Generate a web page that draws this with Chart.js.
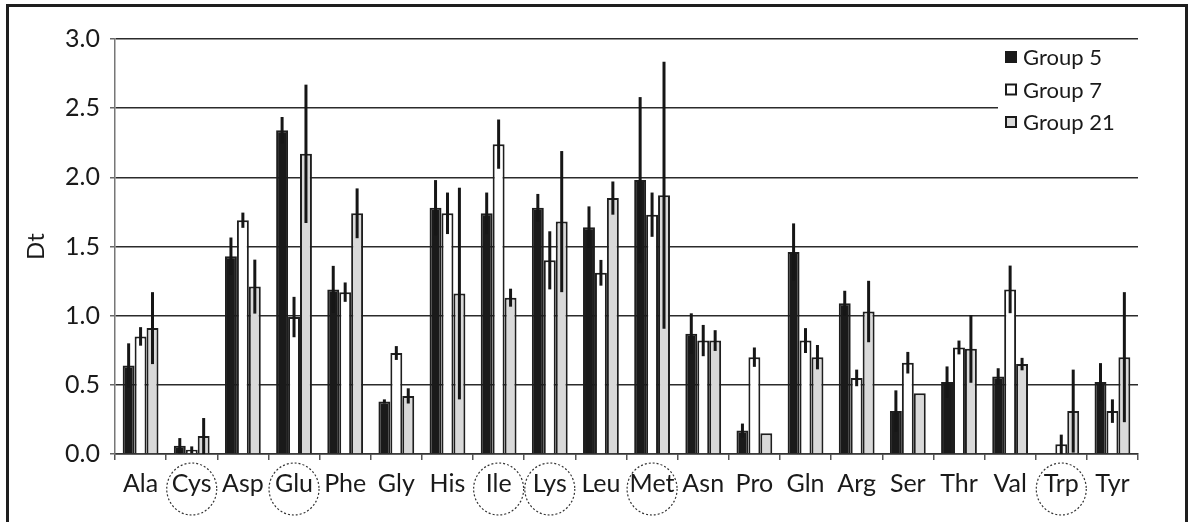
<!DOCTYPE html>
<html>
<head>
<meta charset="utf-8">
<script src="https://cdn.jsdelivr.net/npm/chart.js@4.4.1/dist/chart.umd.min.js"></script>
<style>
  html, body { margin: 0; padding: 0; background: #fff; }
  #wrap { position: relative; width: 1191px; height: 522px; overflow: hidden; }
  #frame {
    position: absolute; left: 6px; top: 4px; width: 1182px; height: 600px;
    box-sizing: border-box; border: 3px solid #1e1e1e; pointer-events: none;
  }
  canvas { position: absolute; left: 0; top: 0; }
</style>
</head>
<body>
<div id="wrap">
  <canvas id="chart" width="1191" height="522"></canvas>
  <div id="frame"></div>
</div>
<script>
const categories = ['Ala', 'Cys', 'Asp', 'Glu', 'Phe', 'Gly', 'His', 'Ile', 'Lys', 'Leu',
                    'Met', 'Asn', 'Pro', 'Gln', 'Arg', 'Ser', 'Thr', 'Val', 'Trp', 'Tyr'];
// labels drawn with a dotted circle round them
const circled = ['Cys', 'Glu', 'Ile', 'Lys', 'Met', 'Trp'];

const group5    = [0.64, 0.06, 1.43, 2.34, 1.19, 0.38, 1.78, 1.74, 1.78, 1.64, 1.98, 0.87, 0.17, 1.46, 1.09, 0.31, 0.52, 0.56, 0, 0.52];
const group5Err = [0.16, 0.055, 0.135, 0.096, 0.17, 0.015, 0.2, 0.15, 0.1, 0.15, 0.6, 0.147, 0.05, 0.207, 0.09, 0.15, 0.113, 0.06, 0, 0.137];
const group7    = [0.85, 0.03, 1.69, 0.99, 1.17, 0.73, 1.74, 2.24, 1.40, 1.31, 1.73, 0.82, 0.70, 0.82, 0.55, 0.66, 0.77, 1.19, 0.07, 0.31];
const group7Err = [0.067, 0.025, 0.055, 0.146, 0.07, 0.05, 0.15, 0.178, 0.21, 0.093, 0.16, 0.113, 0.07, 0.09, 0.06, 0.078, 0.05, 0.172, 0.07, 0.085];
const group21    = [0.91, 0.13, 1.21, 2.17, 1.74, 0.42, 1.16, 1.13, 1.68, 1.85, 1.87, 0.82, 0.15, 0.70, 1.03, 0.44, 0.76, 0.65, 0.31, 0.70];
const group21Err = [0.26, 0.13, 0.195, 0.5, 0.18, 0.055, 0.765, 0.065, 0.51, 0.12, 0.965, 0.075, 0, 0.088, 0.222, 0, 0.245, 0.045, 0.3, 0.47];

const FONT = 'Lato, "Open Sans", sans-serif';
Chart.defaults.font.family = FONT;
Chart.defaults.font.size = 25;
Chart.defaults.color = '#1a1a1a';

// vertical error bars, no caps
const errorBars = {
    id: 'errorBars',
    afterDatasetsDraw(chart) {
        const ctx = chart.ctx;
        const y = chart.scales.y;
        ctx.save();
        ctx.strokeStyle = '#161616';
        ctx.lineWidth = 3;
        chart.data.datasets.forEach((ds, di) => {
            const meta = chart.getDatasetMeta(di);
            meta.data.forEach((bar, i) => {
                const e = ds.errors[i];
                if (!e) return;
                const v = ds.data[i];
                ctx.beginPath();
                ctx.moveTo(bar.x, y.getPixelForValue(v + e));
                ctx.lineTo(bar.x, y.getPixelForValue(Math.max(0, v - e)));
                ctx.stroke();
            });
        });
        ctx.restore();
    }
};

// dotted circles round some x labels
const labelCircles = {
    id: 'labelCircles',
    afterDraw(chart) {
        const ctx = chart.ctx;
        const x = chart.scales.x;
        ctx.save();
        ctx.strokeStyle = '#333';
        ctx.lineWidth = 1.2;
        ctx.setLineDash([2, 2]);
        categories.forEach((c, i) => {
            if (!circled.includes(c)) return;
            ctx.beginPath();
            ctx.ellipse(x.getPixelForValue(i), 489, 25, 26, 0, 0, Math.PI * 2);
            ctx.stroke();
        });
        ctx.restore();
    }
};

// legend in the top right of the plot
const boxLegend = {
    id: 'boxLegend',
    afterDraw(chart) {
        const ctx = chart.ctx;
        const area = chart.chartArea;
        ctx.save();
        ctx.fillStyle = '#fff';
        ctx.fillRect(998, area.top + 3, area.right - 998, 130);
        ctx.font = '22px ' + FONT;
        ctx.textBaseline = 'middle';
        chart.data.datasets.forEach((ds, i) => {
            const cy = 57 + i * 32.5;
            ctx.fillStyle = ds.backgroundColor;
            ctx.fillRect(1006, cy - 5, 10, 10);
            ctx.strokeStyle = '#1a1a1a';
            ctx.lineWidth = 2;
            ctx.strokeRect(1006, cy - 5, 10, 10);
            ctx.fillStyle = '#1a1a1a';
            ctx.fillText(ds.label, 1023, cy + 1);
        });
        ctx.restore();
    }
};

new Chart(document.getElementById('chart'), {
    type: 'bar',
    data: {
        labels: categories,
        datasets: [
            { label: 'Group 5', data: group5, errors: group5Err, backgroundColor: '#1a1a1a' },
            { label: 'Group 7', data: group7, errors: group7Err, backgroundColor: '#ffffff' },
            { label: 'Group 21', data: group21, errors: group21Err, backgroundColor: '#d9d9d9' }
        ]
    },
    options: {
        responsive: false,
        animation: false,
        devicePixelRatio: 1,
        layout: { padding: { left: 0, top: 39, right: 53, bottom: 0 } },
        datasets: {
            bar: {
                borderColor: '#1e1e1e',
                borderWidth: 2,
                borderSkipped: 'bottom',
                categoryPercentage: 0.7,
                barPercentage: 1.0
            }
        },
        plugins: {
            legend: { display: false },
            tooltip: { enabled: false }
        },
        scales: {
            x: {
                afterFit: (s) => { s.height = 68; },
                grid: {
                    display: true, offset: true, drawOnChartArea: false,
                    drawTicks: true, tickLength: 6, color: '#555', lineWidth: 1.5
                },
                border: { display: true, color: '#333', width: 1.5 },
                ticks: { font: { family: FONT, size: 25 }, padding: 9, maxRotation: 0, autoSkip: false }
            },
            y: {
                min: 0,
                max: 3,
                afterFit: (s) => { s.width = 115; },
                grid: { color: '#2b2b2b', lineWidth: 1.5, tickLength: 5, tickColor: '#666' },
                border: { display: true, color: '#777', width: 1.5 },
                ticks: {
                    stepSize: 0.5,
                    padding: 10,
                    font: { family: FONT, size: 25 },
                    callback: (v) => v.toFixed(1)
                },
                title: {
                    display: true, text: 'Dt',
                    font: { family: FONT, size: 24 }, padding: { top: 22, bottom: 0 }
                }
            }
        }
    },
    plugins: [errorBars, labelCircles, boxLegend]
});
</script>
</body>
</html>
